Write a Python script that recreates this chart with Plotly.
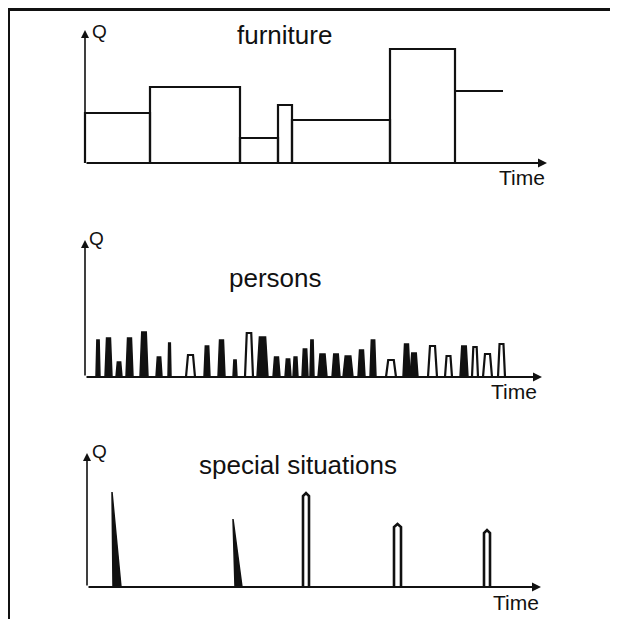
import plotly.graph_objects as go

# ---------------- data ----------------
# furniture: step blocks (time breakpoints, Q level of each block)
furn_t = [0, 65, 155, 193, 207, 305, 370, 418]
furn_q = [50, 76, 25, 58, 43, 114, 72]

# persons: pulses (start time, end time, peak Q)
pers_t0 = [11, 20, 31, 41, 55, 71, 83, 101, 119, 133, 148, 160, 172, 188, 200, 208,
           217, 225, 233, 247, 258, 273, 285, 301, 318, 325, 343, 360, 375, 387, 398, 413]
pers_t1 = [15, 27, 37, 48, 63, 77, 86, 110, 125, 140, 152, 168, 183, 195, 206, 213,
           223, 229, 242, 255, 268, 280, 291, 311, 325, 333, 352, 367, 383, 393, 407, 420]
pers_q = [37, 39, 15, 39, 45, 20, 34, 22, 31, 37, 17, 44, 40, 20, 18, 20,
          28, 37, 23, 23, 21, 27, 37, 17, 33, 24, 31, 21, 31, 30, 23, 33]

# special situations: spikes (base start, base end, peak time, peak Q)
spec_t0 = [26, 148, 216, 307, 397]
spec_t1 = [34, 155, 222, 314, 403]
spec_tp = [25, 146, 219, 310.5, 400]
spec_q = [95, 68, 94, 63, 57]

titles = ["furniture", "persons", "special situations"]
x_label = "Time"
y_label = "Q"

# ---------------- layout helpers ----------------
OFF = 8                 # page body margin
W, H = 618 - OFF, 628 - 2 * OFF - 1
INK = "#111111"
FONT = "Liberation Sans, Arial, sans-serif"
PAD = 4

def px(p):
    return (p - OFF) / W

def py(p):
    return 1 - (p - OFF) / H

# panel geometry in page pixels: origin x, origin y, axis length, axis height
panels = [(85, 163, 462, 133), (85, 377, 457, 137), (87, 587, 454, 134)]

fig = go.Figure()
layout = dict(width=W, height=H, margin=dict(l=0, r=0, t=0, b=0),
              paper_bgcolor="white", plot_bgcolor="white", showlegend=False)

for i, (ox, oy, L, Hh) in enumerate(panels, start=1):
    xa = "xaxis" if i == 1 else f"xaxis{i}"
    ya = "yaxis" if i == 1 else f"yaxis{i}"
    layout[xa] = dict(domain=[px(ox - PAD), px(ox + L + PAD)], range=[-PAD, L + PAD],
                      visible=False, fixedrange=True, anchor=("y" if i == 1 else f"y{i}"))
    layout[ya] = dict(domain=[py(oy + PAD), py(oy - Hh - PAD)], range=[-PAD, Hh + PAD],
                      visible=False, fixedrange=True, anchor=("x" if i == 1 else f"x{i}"))

fig.update_layout(**layout)

def ax(i):
    return ("x", "y") if i == 1 else (f"x{i}", f"y{i}")

# ---------------- furniture ----------------
xs, ys = [], []
n = len(furn_q)
for k in range(n):
    a, b, q = furn_t[k], furn_t[k + 1], furn_q[k]
    if k == n - 1:
        xs += [a, b, None]
        ys += [q, q, None]
    else:
        xs += [a, a, b, b, None]
        ys += [0, q, q, 0, None]
fig.add_trace(go.Scatter(x=xs, y=ys, mode="lines", line=dict(color=INK, width=2.2),
                         xaxis="x", yaxis="y", hoverinfo="skip"))

# ---------------- persons ----------------
outlined = {7, 11, 23, 26, 27, 29, 30, 31}
fx, fy, ox_, oy_ = [], [], [], []
for k in range(len(pers_q)):
    a, b, q = pers_t0[k], pers_t1[k], pers_q[k]
    tap = 0.22 * (b - a)
    xx = [a, a + tap, b - tap, b, a, None]
    yy = [0, q, q, 0, 0, None]
    if k in outlined:
        ox_ += xx; oy_ += yy
    else:
        fx += xx; fy += yy
fig.add_trace(go.Scatter(x=fx, y=fy, mode="lines", fill="toself", fillcolor=INK,
                         line=dict(color=INK, width=1.5), xaxis="x2", yaxis="y2", hoverinfo="skip"))
fig.add_trace(go.Scatter(x=ox_, y=oy_, mode="lines", fill="toself", fillcolor="white",
                         line=dict(color=INK, width=2.2), xaxis="x2", yaxis="y2", hoverinfo="skip"))

# ---------------- special situations ----------------
tx, ty, rx, ry = [], [], [], []
for k in range(len(spec_q)):
    a, b, p, q = spec_t0[k], spec_t1[k], spec_tp[k], spec_q[k]
    if p < a:  # slanted triangular spike
        tx += [a, p, b, a, None]
        ty += [0, q, 0, 0, None]
    else:      # narrow rounded column
        rx += [a, a, p, b, b, None]
        ry += [0, q - 3, q, q - 3, 0, None]
fig.add_trace(go.Scatter(x=tx, y=ty, mode="lines", fill="toself", fillcolor=INK,
                         line=dict(color=INK, width=1.5), xaxis="x3", yaxis="y3", hoverinfo="skip"))
fig.add_trace(go.Scatter(x=rx, y=ry, mode="lines", fill="toself", fillcolor="white",
                         line=dict(color=INK, width=2.6), xaxis="x3", yaxis="y3", hoverinfo="skip"))

# ---------------- axes with arrows + labels ----------------
title_pos = [(284, 35), (275, 278), (298, 465)]
time_pos = [(522, 177), (514, 391), (516, 602)]
q_pos = [(99, 31), (96, 238), (99, 451)]
for i, (ox, oy, L, Hh) in enumerate(panels, start=1):
    xr, yr = ax(i)
    fig.add_annotation(x=L, y=0, ax=0, ay=0, xref=xr, yref=yr, axref=xr, ayref=yr,
                       text="", showarrow=True, arrowhead=2, arrowsize=1, arrowwidth=1.8,
                       arrowcolor=INK)
    fig.add_annotation(x=0, y=Hh, ax=0, ay=0, xref=xr, yref=yr, axref=xr, ayref=yr,
                       text="", showarrow=True, arrowhead=2, arrowsize=1, arrowwidth=1.6,
                       arrowcolor=INK)
    tx_, ty_ = title_pos[i - 1]
    fig.add_annotation(x=px(tx_), y=py(ty_), xref="paper", yref="paper", text=titles[i - 1],
                       showarrow=False, font=dict(family=FONT, size=26, color=INK),
                       xanchor="center", yanchor="middle")
    mx, my = time_pos[i - 1]
    fig.add_annotation(x=px(mx), y=py(my), xref="paper", yref="paper", text=x_label,
                       showarrow=False, font=dict(family=FONT, size=21, color=INK),
                       xanchor="center", yanchor="middle")
    qx, qy = q_pos[i - 1]
    fig.add_annotation(x=px(qx), y=py(qy), xref="paper", yref="paper", text=y_label,
                       showarrow=False, font=dict(family=FONT, size=19, color=INK),
                       xanchor="center", yanchor="middle")

# ---------------- frame ----------------
fig.add_shape(type="line", xref="paper", yref="paper", x0=0, x1=1, y0=py(9.5), y1=py(9.5),
              line=dict(color=INK, width=3))
fig.add_shape(type="line", xref="paper", yref="paper", x0=px(9), x1=px(9), y0=py(9.5), y1=0,
              line=dict(color=INK, width=2))

fig.write_html("out.html")
